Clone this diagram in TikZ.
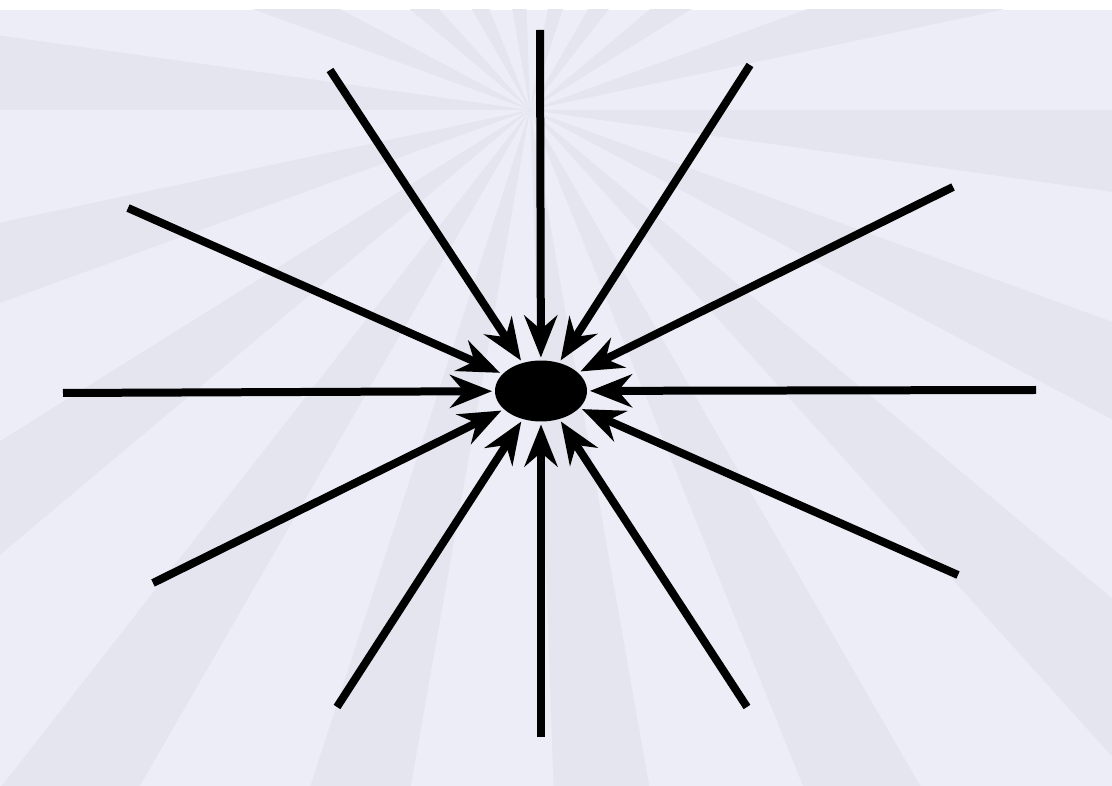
\documentclass[tikz,border=0pt]{standalone}
\usetikzlibrary{arrows.meta,shapes.geometric}
\definecolor{paper}{RGB}{236,237,246}
\definecolor{rayshade}{RGB}{228,229,238}

\begin{document}
\begin{tikzpicture}[x=0.02cm, y=-0.02cm,
    field/.style={line width=0.16cm, black,
      -{Stealth[length=0.84cm, width=0.66cm, inset=0.28cm]}, shorten >=1.5pt}]
  \useasboundingbox (0,0) rectangle (1112,786);
  \fill[white] (0,0) rectangle (1112,786);
  \fill[paper] (0,10) rectangle (1112,786);

  % faint rays of the paper
  \begin{scope}
    \clip (0,10) rectangle (1112,786);
    \foreach \a in {0,20,...,340}
      \fill[rayshade] (530,110) -- +(\a:1500) -- +(\a+8:1500) -- cycle;
  \end{scope}

  \node[ellipse, fill=black, inner sep=0, minimum width=1.84cm,
        minimum height=1.22cm] (core) at (541,391) {};

  \foreach \name/\x/\y in {n/540/30, nnw/330/70, nne/750/65,
      wnw/128/208, ene/953/187, w/63/393, e/1036/390,
      wsw/153/583, ese/958/575, ssw/337/707, s/541/737, sse/747/707}
  {
    \coordinate (\name) at (\x,\y);
    \draw[field] (\name) -- (core);
  }
\end{tikzpicture}
\end{document}
